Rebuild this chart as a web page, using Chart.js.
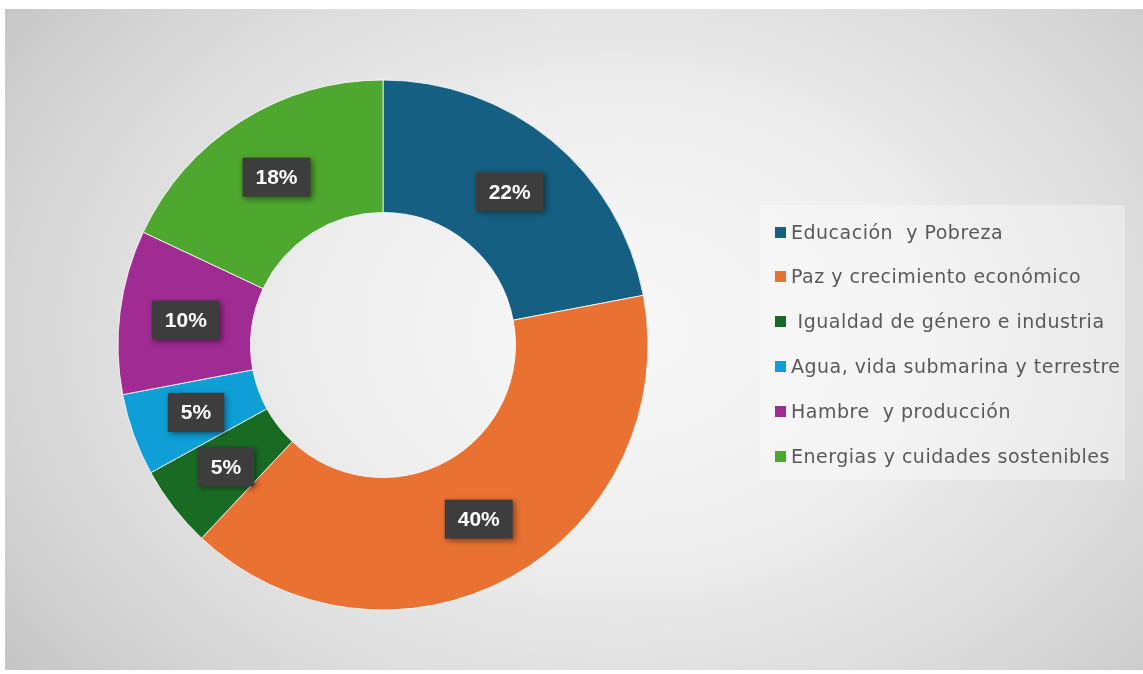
<!DOCTYPE html>
<html>
<head>
<meta charset="utf-8">
<script src="https://cdn.jsdelivr.net/npm/chart.js@4.4.1/dist/chart.umd.min.js"></script>
<style>
    html, body { margin: 0; padding: 0; background: #ffffff; }
    #marco {
        position: absolute; left: 5px; top: 9px; width: 1138px; height: 661px;
        background: radial-gradient(ellipse 760px 560px at 615px 320px, #f8f8f8 0%, #eeeeee 40%, #d6d6d6 80%, #c6c6c6 100%);
    }
    #grafico { position: absolute; left: 0; top: 0; }
    #leyenda {
        position: absolute; left: 755px; top: 196px; width: 365px; height: 275px;
        background: rgba(255, 255, 255, 0.35);
        box-sizing: border-box; padding-top: 4.6px;
        font-family: "DejaVu Sans", Inter, sans-serif; font-size: 19px; letter-spacing: 0.5px; color: #595959;
    }
    .item { height: 44.8px; line-height: 44.8px; white-space: pre; position: relative; padding-left: 31px; }
    .cuadro { position: absolute; left: 15px; top: 17px; width: 11px; height: 11px; }
</style>
</head>
<body>
<div id="marco">
    <canvas id="grafico" width="1138" height="661"></canvas>
    <div id="leyenda"></div>
</div>
<script>
// Datos del gráfico
const categorias = [
    'Educación  y Pobreza',
    'Paz y crecimiento económico',
    ' Igualdad de género e industria',
    'Agua, vida submarina y terrestre',
    'Hambre  y producción',
    'Energias y cuidades sostenibles'
];
const porcentajes = [22, 40, 5, 5, 10, 18];
const colores = ['#156082', '#E97132', '#196B24', '#0F9ED5', '#A02B93', '#4EA72E'];

// Plugin para dibujar las etiquetas con fondo oscuro
const etiquetas = {
    id: 'etiquetas',
    afterDatasetsDraw(chart) {
        const ctx = chart.ctx;
        const meta = chart.getDatasetMeta(0);
        ctx.save();
        ctx.font = 'bold 21px "Liberation Sans", Arial, sans-serif';
        ctx.textAlign = 'center';
        ctx.textBaseline = 'middle';
        meta.data.forEach((arco, i) => {
            const pos = arco.tooltipPosition();
            const texto = porcentajes[i] + '%';
            const w = ctx.measureText(texto).width + 26;
            const h = 39;
            ctx.shadowColor = 'rgba(0,0,0,0.45)';
            ctx.shadowBlur = 6;
            ctx.shadowOffsetX = 2;
            ctx.shadowOffsetY = 2;
            ctx.fillStyle = '#3d3d3d';
            ctx.fillRect(pos.x - w / 2, pos.y - h / 2, w, h);
            ctx.shadowColor = 'transparent';
            ctx.fillStyle = '#ffffff';
            ctx.fillText(texto, pos.x, pos.y + 1);
        });
        ctx.restore();
    }
};

const ctxDona = document.getElementById('grafico').getContext('2d');
new Chart(ctxDona, {
    type: 'doughnut',
    data: {
        labels: categorias,
        datasets: [{
            data: porcentajes,
            backgroundColor: colores,
            borderColor: 'rgba(255,255,255,0.8)',
            borderWidth: 1,
            hoverOffset: 0
        }]
    },
    options: {
        responsive: false,
        maintainAspectRatio: false,
        animation: false,
        cutout: '50%',
        radius: 265,
        layout: { padding: { left: 0, right: 382, top: 71, bottom: 60 } },
        plugins: {
            legend: { display: false },
            tooltip: { enabled: false }
        }
    },
    plugins: [etiquetas]
});

// Leyenda en HTML
const leyenda = document.getElementById('leyenda');
categorias.forEach((cat, i) => {
    const fila = document.createElement('div');
    fila.className = 'item';
    const cuadro = document.createElement('span');
    cuadro.className = 'cuadro';
    cuadro.style.background = colores[i];
    fila.appendChild(cuadro);
    fila.appendChild(document.createTextNode(cat));
    leyenda.appendChild(fila);
});
</script>
</body>
</html>
